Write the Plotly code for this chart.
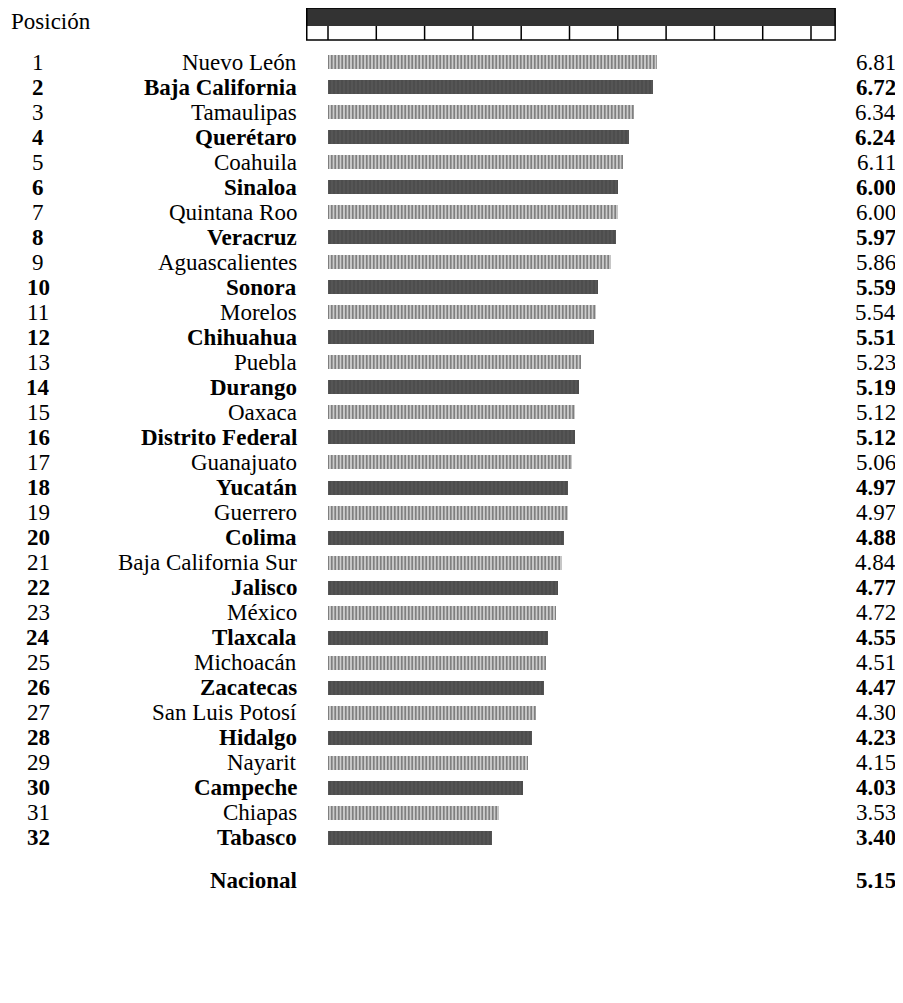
import plotly.graph_objects as go

positions = list(range(1, 33))
states = ["Nuevo León", "Baja California", "Tamaulipas", "Querétaro", "Coahuila",
          "Sinaloa", "Quintana Roo", "Veracruz", "Aguascalientes", "Sonora",
          "Morelos", "Chihuahua", "Puebla", "Durango", "Oaxaca",
          "Distrito Federal", "Guanajuato", "Yucatán", "Guerrero", "Colima",
          "Baja California Sur", "Jalisco", "México", "Tlaxcala", "Michoacán",
          "Zacatecas", "San Luis Potosí", "Hidalgo", "Nayarit", "Campeche",
          "Chiapas", "Tabasco"]
values = [6.81, 6.72, 6.34, 6.24, 6.11, 6.00, 6.00, 5.97, 5.86, 5.59,
          5.54, 5.51, 5.23, 5.19, 5.12, 5.12, 5.06, 4.97, 4.97, 4.88,
          4.84, 4.77, 4.72, 4.55, 4.51, 4.47, 4.30, 4.23, 4.15, 4.03,
          3.53, 3.40]
value_labels = ["6.81", "6.72", "6.34", "6.24", "6.11", "6.00", "6.00", "5.97", "5.86", "5.59",
                "5.54", "5.51", "5.23", "5.19", "5.12", "5.12", "5.06", "4.97", "4.97", "4.88",
                "4.84", "4.77", "4.72", "4.55", "4.51", "4.47", "4.30", "4.23", "4.15", "4.03",
                "3.53", "3.40"]
national_label = "Nacional"
national_value = "5.15"
header_label = "Posición"
scale_ticks = list(range(0, 11))

OFF = 8  # browser body margin
W, H = 903 - 2 * OFF, 1003 - 2 * OFF
PX_PER_UNIT = 48.3
X0_PX = 328 - OFF
ROW0_PX = 62 - OFF
ROW_STEP = 25.03
FONT = "Liberation Serif"
FS = 23

def px(xp):  # page x pixel -> paper
    return (xp - OFF) / W

x_range = [-X0_PX / PX_PER_UNIT, (W - X0_PX) / PX_PER_UNIT]
def row_of(py):  # page y pixel -> row coordinate
    return 1 + (py - OFF - ROW0_PX) / ROW_STEP
y_range = [row_of(H + OFF), row_of(OFF)]

odd = [i for i in range(32) if (i + 1) % 2 == 1]
even = [i for i in range(32) if (i + 1) % 2 == 0]

fig = go.Figure()
fig.add_trace(go.Bar(
    orientation="h",
    y=[positions[i] for i in odd], x=[values[i] for i in odd], base=0,
    width=0.56,
    marker=dict(color="white", line=dict(width=0),
                pattern=dict(shape="|", fgcolor="#000000", bgcolor="white",
                             size=3.5, solidity=0.7)),
    hoverinfo="skip", showlegend=False))
fig.add_trace(go.Bar(
    orientation="h",
    y=[positions[i] for i in even], x=[values[i] for i in even], base=0,
    width=0.56,
    marker=dict(color="white", line=dict(width=0),
                pattern=dict(shape="|", fgcolor="#000000", bgcolor="#9a9a9a",
                             size=4, solidity=0.95)),
    hoverinfo="skip", showlegend=False))

ann = []
def txt(x, y, s, anchor, bold=False):
    ann.append(dict(x=x, y=y, xref="paper", yref="y", text=f"<b>{s}</b>" if bold else s,
                    showarrow=False, xanchor=anchor, yanchor="middle",
                    font=dict(family=FONT, size=FS, color="#000000")))

for i in range(32):
    b = (i + 1) % 2 == 0
    txt(px(38), positions[i], str(positions[i]), "center", b)
    txt(px(299), positions[i], states[i], "right", b)
    txt(px(898), positions[i], value_labels[i], "right", b)

nat_row = row_of(880)
txt(px(299), nat_row, national_label, "right", True)
txt(px(898), nat_row, national_value, "right", True)
txt(px(51), row_of(21), header_label, "center", False)

shapes = []
y_top, y_mid, y_bot = row_of(8), row_of(26), row_of(40)
shapes.append(dict(type="rect", xref="x", yref="y", x0=-0.44, x1=10.5, y0=y_top, y1=y_mid,
                   fillcolor="#333333", line=dict(width=0)))
shapes.append(dict(type="rect", xref="x", yref="y", x0=-0.44, x1=10.5, y0=y_top, y1=y_bot,
                   fillcolor="rgba(0,0,0,0)", line=dict(color="#000000", width=1.5)))
for t in scale_ticks:
    shapes.append(dict(type="line", xref="x", yref="y", x0=t, x1=t, y0=y_mid, y1=y_bot,
                       line=dict(color="#000000", width=1.5)))

fig.update_layout(
    width=W, height=H,
    margin=dict(l=0, r=0, t=0, b=0),
    paper_bgcolor="white", plot_bgcolor="white",
    font=dict(family=FONT, color="#000000"),
    xaxis=dict(range=x_range, visible=False, fixedrange=True),
    yaxis=dict(range=y_range, visible=False, fixedrange=True),
    bargap=0, annotations=ann, shapes=shapes,
)
fig.write_html("out.html")
